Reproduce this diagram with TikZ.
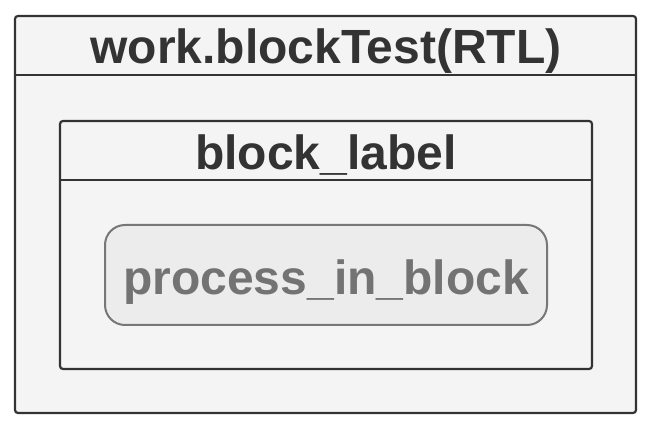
\documentclass[tikz,border=0pt]{standalone}
\usepackage{fontspec}
\setmainfont{Liberation Sans}
\definecolor{framefill}{HTML}{F4F4F4}
\definecolor{frameline}{HTML}{333333}
\definecolor{procfill}{HTML}{ECECEC}
\definecolor{procline}{HTML}{777777}
\definecolor{proctext}{HTML}{737373}
\begin{document}
\begin{tikzpicture}[x=1pt,y=-1pt,
  frame/.style={draw=frameline,fill=framefill,line width=2.2pt,rounded corners=3pt},
  divider/.style={draw=frameline,line width=2.2pt},
  title/.style={font=\fontsize{48}{56}\selectfont\bfseries,text=frameline,inner sep=0pt,anchor=base},
  proc/.style={draw=procline,fill=procfill,line width=2pt,rounded corners=20pt},
  proctitle/.style={font=\fontsize{48}{56}\selectfont\bfseries,text=proctext,inner sep=0pt,anchor=base}]
  \useasboundingbox (0,0) rectangle (651,430);
  \fill[white] (0,0) rectangle (651,430);
  % architecture frame
  \path[frame] (15,16) rectangle (636,413);
  \draw[divider] (15,75) -- (636,75);
  \node[title] (arch) at (326,64) {work.blockTest(RTL)};
  % block frame
  \path[frame] (60,121) rectangle (592,369);
  \draw[divider] (60,180) -- (592,180);
  \node[title] (blk) at (326,170) {block\_label};
  % process inside the block
  \path[proc] (105,225) rectangle (547,325);
  \node[proctitle] (proc) at (326,294.5) {process\_in\_block};
\end{tikzpicture}
\end{document}
